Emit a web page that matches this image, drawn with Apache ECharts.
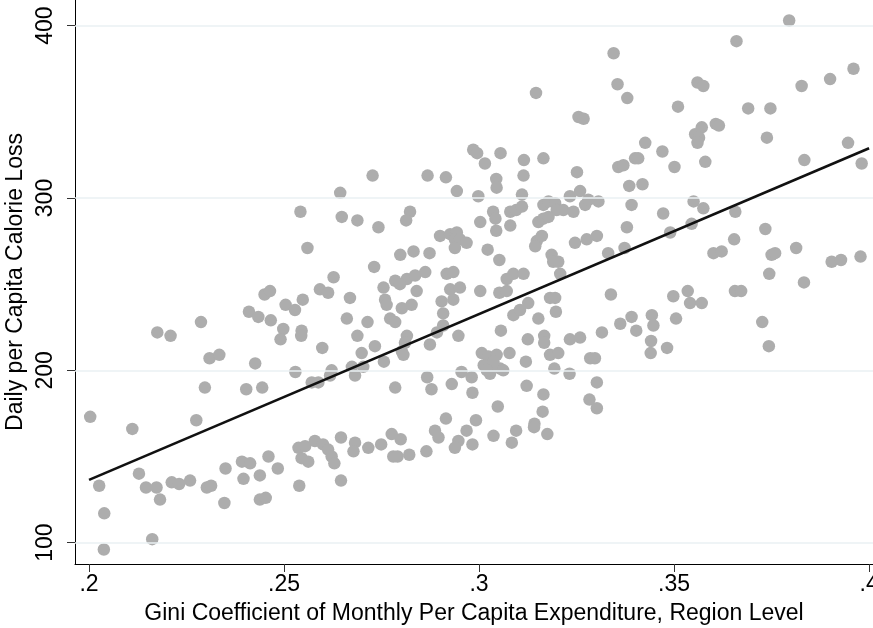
<!DOCTYPE html>
<html>
<head>
<meta charset="utf-8">
<script src="https://cdn.jsdelivr.net/npm/echarts@6/dist/echarts.min.js"></script>
<style>
  html, body { margin: 0; padding: 0; background: #fff; }
  #chart { width: 873px; height: 628px; }
</style>
</head>
<body>
<div id="chart"></div>
<script>
// Region-level Gini coefficient of monthly per capita expenditure
const giniX = [
  0.3795, 0.366, 0.3345, 0.3355, 0.338, 0.356, 0.3575, 0.351, 0.369, 0.3747,
  0.3827, 0.39, 0.396, 0.3607, 0.3615, 0.3571, 0.3554, 0.3564, 0.356, 0.3426,
  0.347, 0.3738, 0.3946, 0.3146, 0.3255, 0.3268, 0.2985, 0.2995, 0.3055, 0.3015,
  0.3115, 0.3165, 0.2727, 0.2868, 0.2915, 0.3044, 0.3045, 0.3114, 0.3251, 0.2943,
  0.2998, 0.311, 0.2644, 0.2648, 0.2688, 0.2742, 0.2823, 0.2813, 0.3003, 0.3036,
  0.3042, 0.308, 0.3095, 0.311, 0.308, 0.3044, 0.3165, 0.3178, 0.3195, 0.3199,
  0.3216, 0.3233, 0.3242, 0.3259, 0.3272, 0.328, 0.3306, 0.3152, 0.3165, 0.3178,
  0.3148, 0.3161, 0.3144, 0.3246, 0.3276, 0.3302, 0.29, 0.2926, 0.2943, 0.2938,
  0.2951, 0.2968, 0.2938, 0.2798, 0.2832, 0.2873, 0.2731, 0.3022, 0.3052, 0.2785,
  0.2815, 0.2836, 0.2862, 0.2917, 0.2934, 0.3071, 0.3088, 0.3114, 0.3186, 0.319,
  0.3203, 0.3208, 0.3331, 0.3357, 0.337, 0.34, 0.3408, 0.3501, 0.358, 0.3834,
  0.3981, 0.3385, 0.3419, 0.3391, 0.355, 0.3575, 0.3472, 0.3657, 0.3379, 0.349,
  0.3545, 0.3734, 0.3654, 0.3373, 0.3601, 0.3622, 0.375, 0.3759, 0.3813, 0.3904,
  0.3928, 0.3978, 0.3744, 0.3833, 0.3338, 0.3498, 0.3535, 0.3541, 0.3571, 0.3656,
  0.3672, 0.3391, 0.3362, 0.3403, 0.3443, 0.3447, 0.3505, 0.3441, 0.344, 0.3482,
  0.3726, 0.3743, 0.2755, 0.2797, 0.284, 0.2926, 0.2951, 0.3003, 0.3052, 0.3071,
  0.2669, 0.2759, 0.2763, 0.2802, 0.2827, 0.2904, 0.2934, 0.2908, 0.2661, 0.2714,
  0.2772, 0.2785, 0.2908, 0.2688, 0.2892, 0.2947, 0.2815, 0.281, 0.2802, 0.2806,
  0.2733, 0.2874, 0.2699, 0.2756, 0.2674, 0.2703, 0.2682, 0.3088, 0.3105, 0.3126,
  0.3056, 0.3152, 0.3182, 0.3195, 0.3197, 0.3125, 0.3167, 0.3167, 0.3233, 0.3259,
  0.3315, 0.3182, 0.3203, 0.312, 0.3193, 0.3232, 0.3285, 0.3297, 0.3302, 0.3283,
  0.3302, 0.3007, 0.3024, 0.3045, 0.3078, 0.3012, 0.3033, 0.3054, 0.3028, 0.3062,
  0.3037, 0.302, 0.3122, 0.3165, 0.3163, 0.3142, 0.2785, 0.2867, 0.2878, 0.293,
  0.2955, 0.2981, 0.2983, 0.3048, 0.2915, 0.2992, 0.245, 0.2464, 0.2592, 0.2613,
  0.2548, 0.2504, 0.2528, 0.241, 0.2434, 0.2466, 0.2287, 0.2175, 0.2209, 0.2498,
  0.2491, 0.2545, 0.2544, 0.2598, 0.2309, 0.2334, 0.2426, 0.2529, 0.2622, 0.2618,
  0.2571, 0.2588, 0.2297, 0.2403, 0.2444, 0.2003, 0.2275, 0.2111, 0.2128, 0.2026,
  0.2039, 0.2038, 0.2162, 0.2146, 0.2173, 0.2182, 0.2212, 0.2231, 0.2259, 0.2302,
  0.2313, 0.2347, 0.235, 0.2392, 0.2413, 0.2396, 0.2438, 0.2438, 0.2453, 0.246,
  0.2484, 0.2539, 0.2537, 0.2554, 0.2545, 0.2562, 0.2579, 0.26, 0.2613, 0.2622,
  0.2629, 0.2646, 0.2646, 0.2682, 0.2678, 0.2716, 0.2749, 0.2776, 0.2799, 0.278,
  0.2791, 0.2821, 0.2865, 0.2887, 0.2896, 0.2947, 0.2938, 0.2968, 0.2983, 0.3037,
  0.3095, 0.3084, 0.3141, 0.3175, 0.2542, 0.256, 0.2627
];

// Daily per capita calorie loss for each region
const calorieY = [
  403, 391, 384, 366, 358, 367, 365, 353, 352, 352,
  365, 369, 375, 343, 342, 341, 337, 335, 332, 332,
  327, 335, 332, 361, 347, 346, 328, 326, 326, 320,
  322, 323, 313, 313, 312, 311, 306, 313, 315, 304,
  301, 302, 303, 289, 287, 283, 292, 287, 286, 292,
  288, 292, 293, 295, 284, 281, 296, 298, 297, 293,
  293, 301, 292, 304, 296, 299, 298, 286, 288, 289,
  275, 278, 272, 274, 276, 278, 278, 279, 280, 276,
  276, 274, 271, 267, 269, 268, 260, 270, 264, 252,
  253, 255, 257, 256, 257, 253, 256, 256, 267, 263,
  263, 256, 268, 318, 319, 323, 323, 318, 321, 322,
  320, 307, 308, 296, 298, 294, 291, 292, 283, 280,
  285, 282, 276, 271, 268, 269, 267, 268, 271, 263,
  264, 266, 256, 251, 244, 243, 246, 239, 239, 246,
  246, 231, 227, 223, 232, 226, 230, 217, 210, 213,
  228, 214, 248, 250, 246, 247, 248, 246, 245, 246,
  242, 241, 238, 236, 238, 240, 241, 233, 230, 228,
  230, 228, 226, 220, 222, 220, 220, 216, 211, 209,
  214, 215, 210, 205, 202, 202, 197, 232, 235, 239,
  223, 230, 242, 242, 234, 218, 220, 216, 218, 219,
  222, 209, 210, 205, 201, 198, 207, 207, 193, 183,
  178, 210, 208, 209, 210, 203, 203, 201, 198, 200,
  205, 200, 191, 186, 176, 169, 190, 196, 189, 192,
  199, 196, 187, 179, 172, 171, 244, 246, 247, 245,
  241, 238, 235, 234, 231, 229, 228, 222, 220, 224,
  218, 223, 220, 213, 207, 209, 204, 199, 200, 197,
  193, 193, 190, 189, 190, 173, 171, 166, 140, 133,
  117, 96, 102, 132, 132, 125, 135, 134, 136, 132,
  133, 123, 143, 147, 146, 137, 139, 125, 126, 150,
  143, 133, 155, 156, 149, 147, 159, 157, 154, 150,
  146, 161, 136, 158, 153, 155, 157, 163, 160, 150,
  150, 151, 153, 165, 161, 159, 155, 165, 157, 162,
  165, 158, 167, 163, 292, 271, 254
];

// Fitted values of the linear fit at both ends of the Gini range
const fitX = [0.2, 0.4];
const fitY = [136.4, 328.9];

// Axis ticks and their labels
const xTickValues = [0.2, 0.25, 0.3, 0.35, 0.4];
const xTickLabels = ['.2', '.25', '.3', '.35', '.4'];
const yTickValues = [100, 200, 300, 400];
const yTickLabels = ['100', '200', '300', '400'];

const xTitle = 'Gini Coefficient of Monthly Per Capita Expenditure, Region Level';
const yTitle = 'Daily per Capita Calorie Loss';

const FONT = '"Liberation Sans", Arial, sans-serif';
const FONT_SIZE = 23;

const scatterData = giniX.map((x, i) => [x, calorieY[i]]);
const fitData = fitX.map((x, i) => [x, fitY[i]]);

const chart = echarts.init(document.getElementById('chart'), null, { renderer: 'canvas' });

chart.setOption({
  animation: false,
  backgroundColor: '#ffffff',
  grid: { left: 75, right: 0, top: 0, bottom: 64, containLabel: false, outerBoundsMode: 'none' },
  xAxis: {
    type: 'value',
    min: 0.1964,
    max: 0.401,
    name: xTitle,
    nameLocation: 'middle',
    nameGap: 38,
    nameMoveOverlap: false,
    nameTextStyle: { fontFamily: FONT, fontSize: FONT_SIZE, color: '#000' },
    axisLine: { show: true, onZero: false, lineStyle: { color: '#000', width: 1 } },
    axisTick: { show: true, inside: false, length: 8, customValues: xTickValues, lineStyle: { color: '#333', width: 1 } },
    axisLabel: {
      customValues: xTickValues,
      margin: 9,
      fontFamily: FONT, fontSize: FONT_SIZE, color: '#000',
      formatter: v => {
        const i = xTickValues.findIndex(t => Math.abs(t - v) < 1e-9);
        return i >= 0 ? xTickLabels[i] : '';
      }
    },
    splitLine: { show: false }
  },
  yAxis: {
    type: 'value',
    min: 87.6,
    max: 414.9,
    name: yTitle,
    nameLocation: 'middle',
    nameGap: 48,
    nameMoveOverlap: false,
    nameTextStyle: { fontFamily: FONT, fontSize: FONT_SIZE, color: '#000' },
    axisLine: { show: true, onZero: false, lineStyle: { color: '#000', width: 1 } },
    axisTick: { show: true, inside: false, length: 8, customValues: yTickValues, lineStyle: { color: '#333', width: 1 } },
    axisLabel: {
      customValues: yTickValues,
      rotate: 90,
      margin: 18,
      fontFamily: FONT, fontSize: FONT_SIZE, color: '#000',
      formatter: v => {
        const i = yTickValues.findIndex(t => Math.abs(t - v) < 1e-9);
        return i >= 0 ? yTickLabels[i] : '';
      }
    },
    splitLine: { show: false }
  },
  series: [
    {
      type: 'scatter',
      data: scatterData,
      symbol: 'circle',
      symbolSize: 12.5,
      itemStyle: { color: '#adadad', opacity: 1 },
      markLine: {
        silent: true,
        symbol: 'none',
        label: { show: false },
        lineStyle: { color: '#eaf1f3', width: 1.5, type: 'solid' },
        data: yTickValues.map(v => ({ yAxis: v }))
      },
      z: 2
    },
    {
      type: 'line',
      data: fitData,
      showSymbol: false,
      symbol: 'none',
      lineStyle: { color: '#111', width: 2.6 },
      z: 5
    }
  ]
});
</script>
</body>
</html>
